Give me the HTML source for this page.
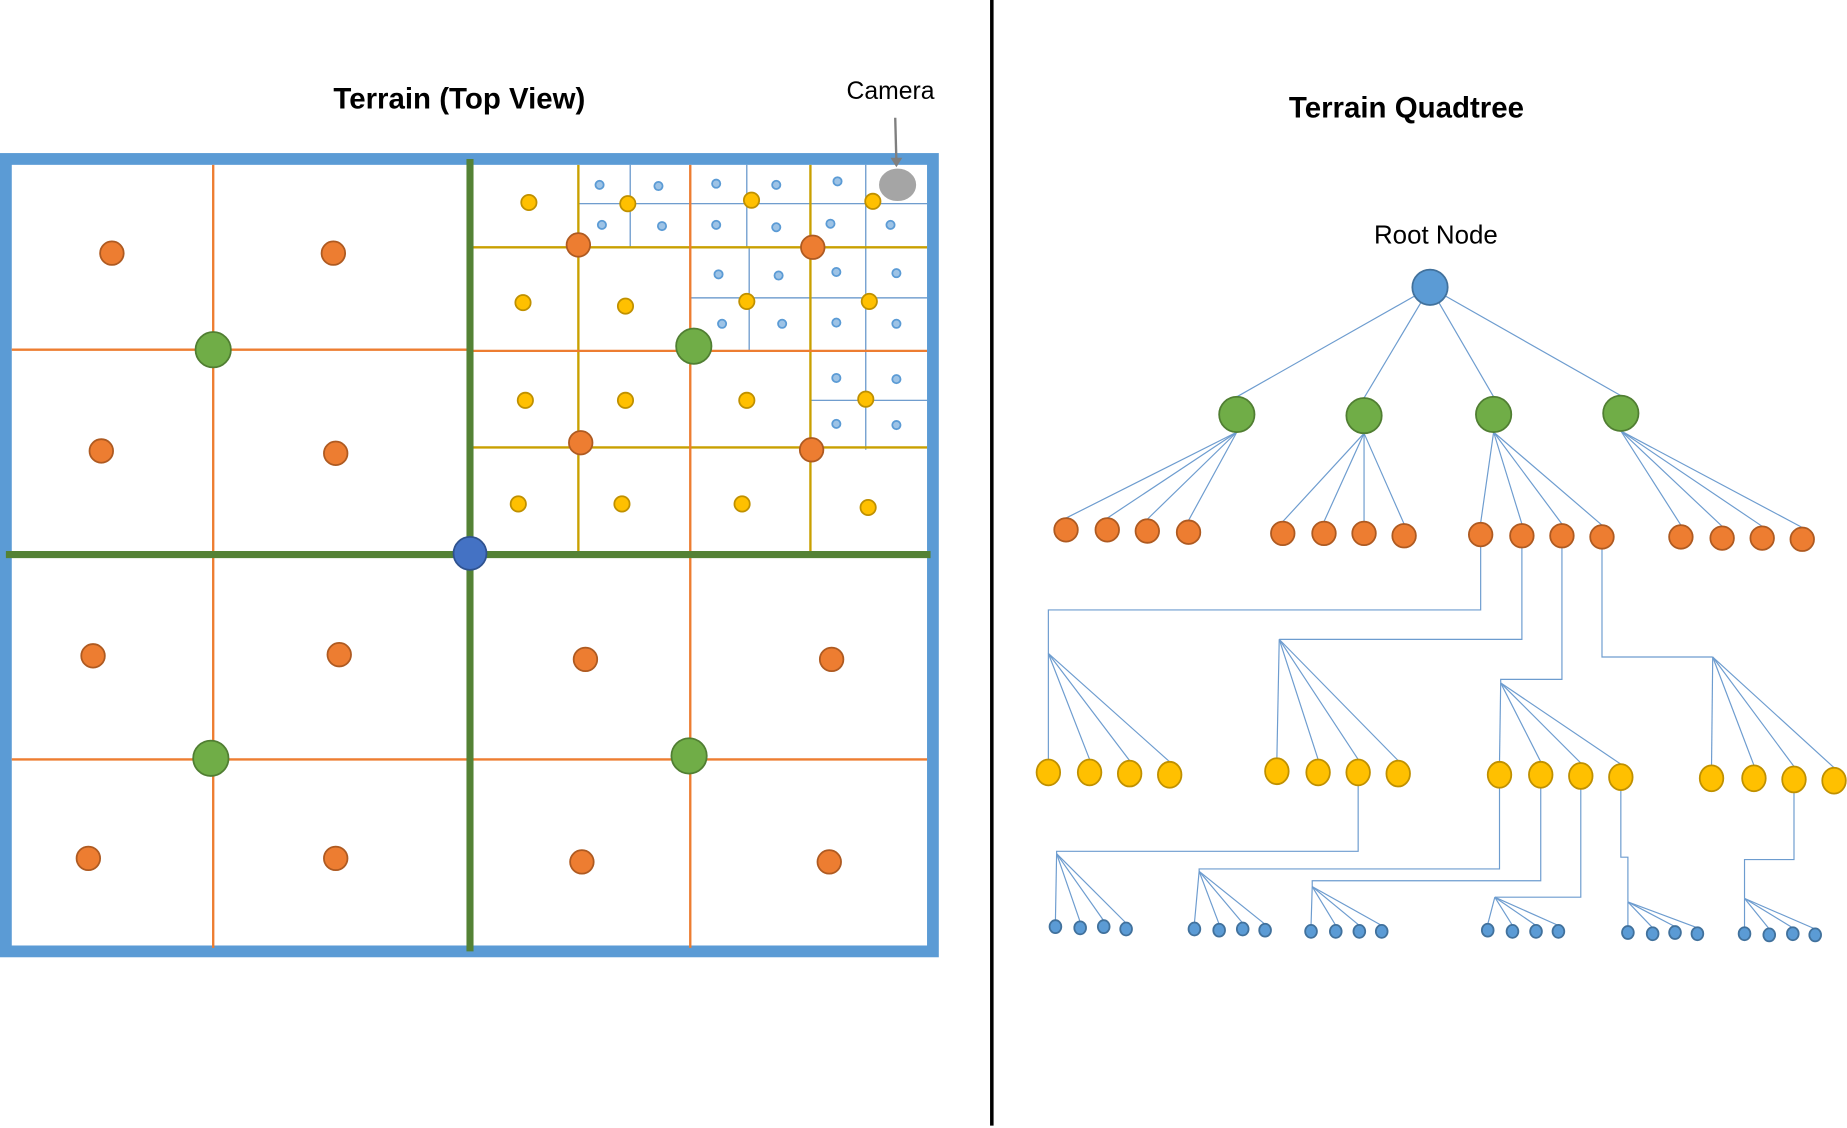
<!DOCTYPE html>
<html><head><meta charset="utf-8"><style>html,body{margin:0;padding:0;background:#fff}svg{display:block}</style></head>
<body>
<svg id="s" width="1847" height="1128" viewBox="0 0 1568 958" preserveAspectRatio="none" xmlns="http://www.w3.org/2000/svg" font-family="Liberation Sans, sans-serif">
<text x="390" y="92" font-size="25" font-weight="bold" text-anchor="middle">Terrain (Top View)</text>
<text x="756" y="84" font-size="21" text-anchor="middle">Camera</text>
<text x="1194" y="100" font-size="25" font-weight="bold" text-anchor="middle">Terrain Quadtree</text>
<text x="1219" y="207" font-size="22" text-anchor="middle">Root Node</text>
<line x1="842" y1="0" x2="842" y2="956" stroke="#000" stroke-width="3"/>
<g id="g"></g>
</svg>
<script>
var g=document.getElementById('g'),h='';
function L(a,b,c,d,col,w){h+='<line x1="'+a+'" y1="'+b+'" x2="'+c+'" y2="'+d+'" stroke="'+col+'" stroke-width="'+w+'"/>';}
function P(pts,col,w){h+='<polyline points="'+pts+'" fill="none" stroke="'+col+'" stroke-width="'+(w||1)+'"/>';}
function C(x,y,r,f,s,ry){h+='<ellipse cx="'+x+'" cy="'+y+'" rx="'+r+'" ry="'+(ry||r)+'" fill="'+f+'" stroke="'+s+'" stroke-width="1.5"/>';}
var BL='#5b8fc7',OR='#ed7d31',YL='#c9a000',GR='#548235';
h+='<rect x="5" y="135" width="787" height="673" fill="none" stroke="#5b9bd5" stroke-width="10"/>';
[[491,586,140,210,173,535],[586,688,140,210,173,634],[688,787,140,210,173,735],[586,688,210,298,253,636],[688,787,210,298,253,735],[688,787,298,382,340,735]].forEach(function(c){L(c[0],c[4],c[1],c[4],BL,1);L(c[5],c[2],c[5],c[3],BL,1);});
L(400,210,787,210,YL,2);L(400,380,787,380,YL,2);L(491,140,491,468,YL,2);L(688,140,688,468,YL,2);
L(10,297,397,297,OR,2);L(400,298,787,298,OR,2);L(10,645,787,645,OR,2);L(181,140,181,805,OR,2);L(586,140,586,805,OR,2);
L(399,135,399,808,GR,6);L(5,471,790,471,GR,6);
C(399,470,14,'#4472c4','#2f528f');
[[181,297],[589,294],[179,644],[585,642]].forEach(function(p){C(p[0],p[1],15,'#70ad47','#507e32');});
[[95,215],[283,215],[86,383],[285,385],[79,557],[288,556],[75,729],[285,729],[497,560],[706,560],[494,732],[704,732],[491,208],[690,210],[493,376],[689,382]].forEach(function(p){C(p[0],p[1],10,'#ed7d31','#ae5a21');});
[[449,172],[444,257],[531,260],[446,340],[531,340],[634,340],[440,428],[528,428],[630,428],[737,431],[533,173],[638,170],[741,171],[634,256],[738,256],[735,339]].forEach(function(p){C(p[0],p[1],6.5,'#ffc000','#bf9000');});
[[509,157],[559,158],[511,191],[562,192],[608,156],[659,157],[608,191],[659,193],[711,154],[705,190],[756,191],[610,233],[661,234],[613,275],[664,275],[710,231],[761,232],[710,274],[761,275],[710,321],[761,322],[710,360],[761,361]].forEach(function(p){C(p[0],p[1],3.5,'#9dc3e6','#5b9bd5');});
L(760,100,761,138,'#7f7f7f',2);
h+='<polygon points="756,134 766,134 761,142" fill="#7f7f7f"/>';
C(762,157,15,'#a5a5a5','#a5a5a5',13);
var TL='#6d9ccf';
var greens=[[1050,352],[1158,353],[1268,352],[1376,351]];
greens.forEach(function(p){L(1214,244,p[0],p[1]-15,TL,1);});
var og=[[[905,450],[940,450],[974,451],[1009,452]],[[1089,453],[1124,453],[1158,453],[1192,455]],[[1257,454],[1292,455],[1326,455],[1360,456]],[[1427,456],[1462,457],[1496,457],[1530,458]]];
og.forEach(function(gp,i){gp.forEach(function(p){L(greens[i][0],greens[i][1]+15,p[0],p[1]-10,TL,1);});});
var yg=[[[890,656],[925,656],[959,657],[993,658]],[[1084,655],[1119,656],[1153,656],[1187,657]],[[1273,658],[1308,658],[1342,659],[1376,660]],[[1453,661],[1489,661],[1523,662],[1557,663]]];
var yfan=[[890,555],[1086,543],[1274,580],[1454,558]];
P('1257,464 1257,518 890,518 890,555',TL);P('1292,465 1292,543 1086,543',TL);P('1326,465 1326,577 1274,577 1274,580',TL);P('1360,466 1360,558 1454,558',TL);
yg.forEach(function(gp,i){gp.forEach(function(p){L(yfan[i][0],yfan[i][1],p[0],p[1]-11,TL,1);});});
var bg=[[[896,787],[917,788],[937,787],[956,789]],[[1014,789],[1035,790],[1055,789],[1074,790]],[[1113,791],[1134,791],[1154,791],[1173,791]],[[1263,790],[1284,791],[1304,791],[1323,791]],[[1382,792],[1403,793],[1422,792],[1441,793]],[[1481,793],[1502,794],[1522,793],[1541,794]]];
var bfan=[[897,725],[1018,740],[1114,753],[1269,762],[1382,766],[1481,763]];
P('1153,667 1153,723 897,723 897,725',TL);P('1273,669 1273,738 1018,738 1018,740',TL);P('1308,669 1308,748 1114,748 1114,753',TL);P('1342,669 1342,762 1269,762',TL);P('1376,669 1376,728 1382,728 1382,766',TL);P('1523,672 1523,730 1481,730 1481,763',TL);
bg.forEach(function(gp,i){gp.forEach(function(p){L(bfan[i][0],bfan[i][1],p[0],p[1]-5,TL,1);});});
C(1214,244,15,'#5b9bd5','#41719c');
greens.forEach(function(p){C(p[0],p[1],15,'#70ad47','#507e32');});
og.forEach(function(gp){gp.forEach(function(p){C(p[0],p[1],10,'#ed7d31','#ae5a21');});});
yg.forEach(function(gp){gp.forEach(function(p){C(p[0],p[1],10,'#ffc000','#bf9000',11);});});
bg.forEach(function(gp){gp.forEach(function(p){C(p[0],p[1],5,'#5b9bd5','#41719c',5.5);});});
g.innerHTML=h;
</script>
</body></html>
